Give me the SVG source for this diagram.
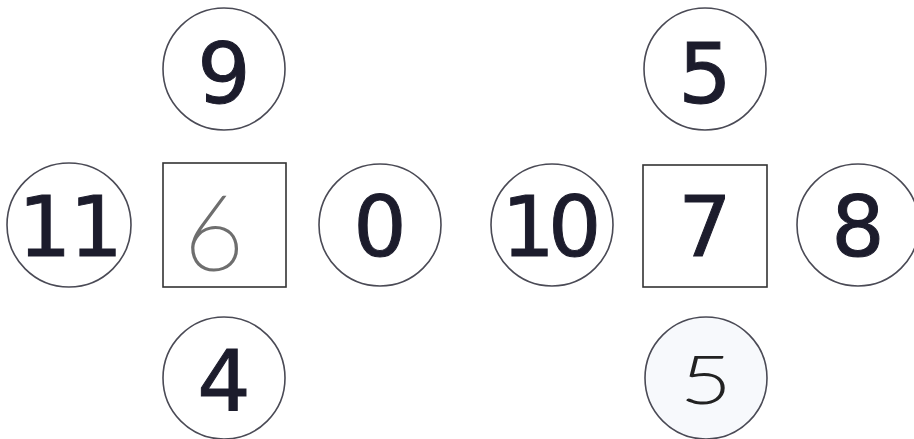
<svg xmlns="http://www.w3.org/2000/svg" width="914" height="439" viewBox="0 0 914 439">
<style>
.c{fill:#fff;stroke:#4a4a55;stroke-width:1.6}
.s{fill:#fff;stroke:#333;stroke-width:1.6}
.t{font-family:"DejaVu Sans",Verdana,sans-serif;font-size:84px;fill:#1c1c2c;stroke:#1c1c2c;stroke-width:1;text-anchor:middle}
.h{font-family:Lato,"Open Sans",sans-serif;font-weight:100;text-anchor:middle}
</style>
<rect width="914" height="439" fill="#fff"/>
<g id="connectors"></g>
<g id="n9"><circle class="c" cx="224" cy="69" r="61"/><text class="t" x="224" y="103">9</text></g>
<g id="n11"><circle class="c" cx="69" cy="225" r="62"/><text class="t" x="69.5" y="256" letter-spacing="-2">11</text></g>
<g id="n6"><rect class="s" x="163" y="163" width="123" height="124"/><text class="h" x="214" y="270" fill="#6e6e6e" font-size="104" stroke="#6e6e6e" stroke-width="2">6</text></g>
<g id="n0"><circle class="c" cx="380" cy="225" r="61"/><text class="t" x="380" y="256">0</text></g>
<g id="n4"><circle class="c" cx="224" cy="378" r="61"/><text class="t" x="224" y="410">4</text></g>
<g id="n5top"><circle class="c" cx="705" cy="69" r="61"/><text class="t" x="705" y="103">5</text></g>
<g id="n10"><circle class="c" cx="552" cy="225" r="61"/><text class="t" x="548" y="256" letter-spacing="-7">10</text></g>
<g id="n7"><rect class="s" x="643" y="165" width="124" height="122"/><text class="t" x="705" y="256">7</text></g>
<g id="n8"><circle class="c" cx="858" cy="225" r="61"/><text class="t" x="858" y="256">8</text></g>
<g id="n5bot"><circle class="c" cx="706" cy="378" r="61" style="fill:#f7f9fc"/><text class="h" x="0" y="0" fill="#222" font-size="67" stroke="#222" stroke-width="2.2" transform="translate(706,403) scale(1.3,1)">5</text></g>
</svg>
